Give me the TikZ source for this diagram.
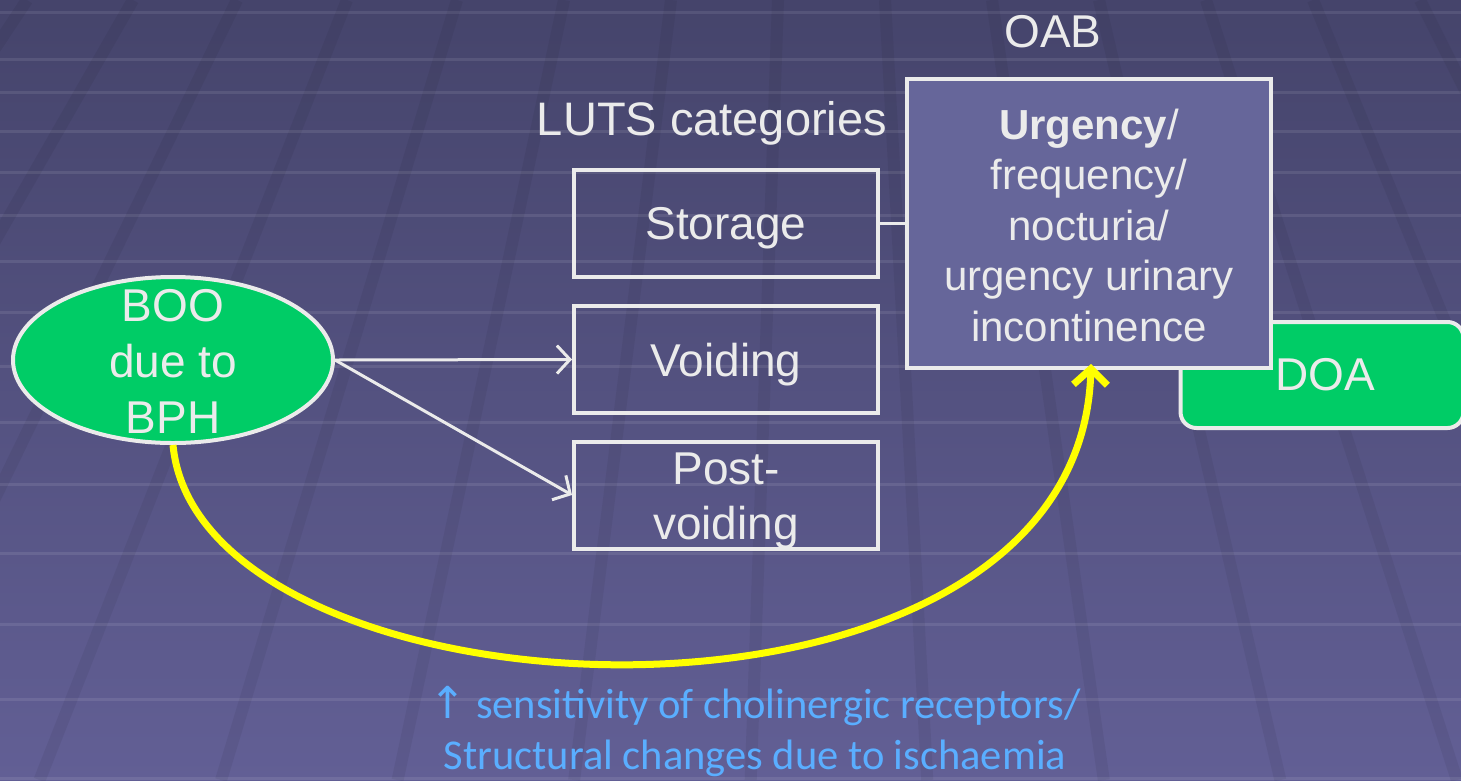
\documentclass[tikz,border=0pt]{standalone}
\usepackage{fontspec}
\setmainfont{Liberation Sans}
\newfontfamily\calib{Carlito}
\newfontfamily\dejavu{DejaVu Sans}
\usetikzlibrary{arrows.meta,shapes.geometric}
\definecolor{bgtop}{HTML}{45446B}
\definecolor{bgbot}{HTML}{625F95}
\definecolor{boxfill}{HTML}{66669A}
\definecolor{grn}{HTML}{00CC66}
\definecolor{lgray}{HTML}{EBEBEB}
\definecolor{skyb}{HTML}{5AAEFF}
\definecolor{ylw}{HTML}{FFFF00}
\begin{document}
\begin{tikzpicture}[x=1pt,y=-1pt,
  txt/.style={text=lgray,font=\fontsize{46}{56}\selectfont,align=center,inner sep=0pt},
  catbox/.style={draw=lgray,line width=4pt,minimum width=304pt,minimum height=107pt,inner sep=0pt,
    text=lgray,font=\fontsize{46}{56}\selectfont,text depth=0pt},
  wline/.style={draw=lgray,line width=3pt},
  barb/.style={-{Straight Barb[length=13pt,width=28pt]}},
  ybarb/.style={-{Straight Barb[length=16pt,width=34pt]}},
  hline/.style={white,opacity=0.09,line width=3pt},
  band/.style={black,opacity=0.055,line width=12pt}]
\useasboundingbox (0,0) rectangle (1461,780);
\begin{scope}
\clip (0,0) rectangle (1461,780);
\shade[top color=bgtop,bottom color=bgbot] (0,0) rectangle (1461,780);
\foreach \y in {12,59,92,131,172,215,261,312,366,422,484,553,624,699,778}
  \draw[hline] (0,\y) -- (1461,\y);
\foreach \x in {27,133,237,347,457,564,671,778,885,992,1099,1206,1313,1420,1527}
  \draw[band] (\x,0) -- ({820+1.65*(\x-820)},780);

% nodes
\node[txt] (oab) at (1053,32) {OAB};
\node[txt,font=\fontsize{47}{56}\selectfont,text depth=0pt] (luts) at (712,118) {LUTS categories};
\node[catbox] (storage) at (726,223.5) {Storage};
\node[catbox] (voiding) at (726,359.5) {Voiding};
\node[catbox] (post) at (726,495) {};
\node[txt,font=\fontsize{46}{55}\selectfont] (posttxt) at (726,501) {Post-\\voiding};

\node[draw=lgray,fill=grn,line width=4pt,rounded corners=16pt,minimum width=283pt,
  minimum height=106pt,inner sep=0pt,text=lgray,font=\fontsize{46}{56}\selectfont]
  (doa) at (1322,375) {\hspace*{6pt}DOA};
\node[draw=lgray,fill=boxfill,line width=4pt,minimum width=364pt,minimum height=289pt,inner sep=0pt]
  (urg) at (1089,223.5) {};
\node[txt,font=\fontsize{42}{50.5}\selectfont] (urgtxt) at (1089,225)
  {\textbf{Urgency}/\\frequency/\\nocturia/\\urgency urinary\\incontinence};

\node[ellipse,draw=lgray,fill=grn,line width=4pt,minimum width=320pt,minimum height=166pt,inner sep=0pt]
  (boo) at (173,360) {};
\node[txt] (bootxt) at (173,361) {BOO\\due to\\BPH};

\node[text=skyb,font=\calib\fontsize{42.5}{51}\selectfont,align=center,inner sep=0pt]
  (note) at (755,732) {{\dejavu\fontsize{44}{51}\selectfont ↑} sensitivity of cholinergic receptors/\\Structural changes due to ischaemia};

% connectors
\draw[wline] (storage.east) -- (urg.west |- storage.east);
\draw[wline,barb] (boo.east) -- (voiding.west);
\draw[wline,barb] (boo.east) -- (post.west);
\draw[ylw,line width=7pt,ybarb] (boo.south) .. controls (200,730) and (1080,770) .. ([xshift=2pt,yshift=6pt]urg.south);
\end{scope}
\end{tikzpicture}
\end{document}
